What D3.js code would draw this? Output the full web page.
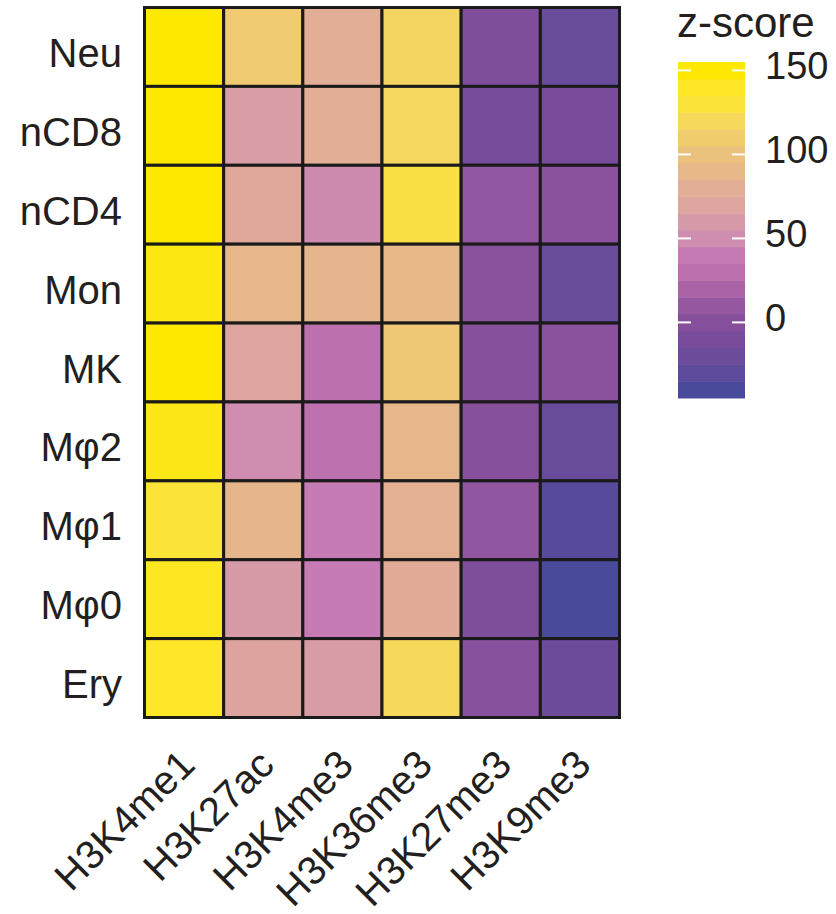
<!DOCTYPE html>
<html>
<head>
<meta charset="utf-8">
<script src="https://cdn.jsdelivr.net/npm/d3@7"></script>
<style>
  html, body { margin: 0; padding: 0; background: #fff; }
  svg { display: block; }
  text { font-family: "Liberation Sans", Arial, Helvetica, sans-serif; fill: #231f20; }
</style>
</head>
<body>
<svg id="chart" width="836" height="914"></svg>
<script>
// Histone marks (columns) and cell types (rows)
const marks = ["H3K4me1", "H3K27ac", "H3K4me3", "H3K36me3", "H3K27me3", "H3K9me3"];
const cellTypes = ["Neu", "nCD8", "nCD4", "Mon", "MK", "Mφ2", "Mφ1", "Mφ0", "Ery"];

// z-scores, one row per cell type, in mark order
const zNeu  = [150, 108, 80, 117, -5, -22];
const zCD8  = [150, 63, 80, 118, -11, -10];
const zCD4  = [150, 73, 49, 127, 9, 3];
const zMon  = [145, 89, 87, 90, 3, -22];
const zMK   = [151, 70, 30, 106, 1, 3];
const zMp2  = [144, 50, 31, 89, 1, -22];
const zMp1  = [131, 88, 40, 83, 8, -33];
const zMp0  = [141, 61, 40, 77, -5, -45];
const zEry  = [139, 68, 62, 120, 2, -20];
const zRows = [zNeu, zCD8, zCD4, zMon, zMK, zMp2, zMp1, zMp0, zEry];

// Colour bar: domain, step size and tick labels
const legendDomain = [-45, 155];
const legendStep = 10;
const legendTicks = [0, 50, 100, 150];

// Palette stops, from low to high z-score
const paletteStops = [
  "#4a4a9b", "#5d4a9b", "#6b4b9a", "#784c9a", "#854f9c",
  "#9557a0", "#aa63a6", "#bc70ad", "#c77bb5", "#cf8daf",
  "#d69aa8", "#dda59d", "#e2ae95", "#e6b88a", "#ebc17e",
  "#f0cc6e", "#f6d95b", "#fbe33a", "#fde726", "#fee800"
];

const svg = d3.select("#chart");

const grid = { left: 144.5, right: 619.5, top: 7.5, bottom: 717.5 };

const x = d3.scaleBand().domain(marks).range([grid.left, grid.right]);
const y = d3.scaleBand().domain(cellTypes).range([grid.top, grid.bottom]);

// Continuous colour through the centres of each colour-bar step
const stopValues = paletteStops.map((_, i) => legendDomain[0] + legendStep * (i + 0.5));
const color = d3.scaleLinear()
  .domain(stopValues)
  .range(paletteStops)
  .interpolate(d3.interpolateRgb)
  .clamp(true);

const cells = [];
zRows.forEach((row, ri) => row.forEach((v, ci) => cells.push({ r: cellTypes[ri], c: marks[ci], v })));

// Heatmap tiles
svg.append("g").selectAll("rect")
  .data(cells)
  .join("rect")
  .attr("x", d => x(d.c))
  .attr("y", d => y(d.r))
  .attr("width", x.bandwidth())
  .attr("height", y.bandwidth())
  .attr("fill", d => color(d.v))
  .attr("stroke", "#1a1a1a")
  .attr("stroke-width", 3);

// Outer frame
svg.append("rect")
  .attr("x", grid.left).attr("y", grid.top)
  .attr("width", grid.right - grid.left).attr("height", grid.bottom - grid.top)
  .attr("fill", "none").attr("stroke", "#1a1a1a").attr("stroke-width", 3);

// Row labels
svg.append("g").selectAll("text")
  .data(cellTypes)
  .join("text")
  .attr("x", 122)
  .attr("y", d => y(d) + y.bandwidth() / 2 + 6)
  .attr("text-anchor", "end")
  .attr("dominant-baseline", "central")
  .attr("font-size", 40)
  .text(d => d);

// Column labels, rotated
svg.append("g").selectAll("text")
  .data(marks)
  .join("text")
  .attr("transform", d => `translate(${x(d) + x.bandwidth() / 2 + 13},767) rotate(-45)`)
  .attr("text-anchor", "end")
  .attr("font-size", 40)
  .text(d => d);

// Colour bar legend
const legend = { x: 678, width: 67 };
const ly = d3.scaleLinear().domain(legendDomain).range([398, 62]);
const steps = d3.range(legendDomain[0], legendDomain[1], legendStep);

const lg = svg.append("g");
lg.selectAll("rect")
  .data(steps)
  .join("rect")
  .attr("x", legend.x)
  .attr("y", d => ly(d + legendStep))
  .attr("width", legend.width)
  .attr("height", d => ly(d) - ly(d + legendStep) + 0.5)
  .attr("fill", d => color(d + legendStep / 2));

// White tick marks on both edges of the bar
lg.selectAll("line.tl")
  .data(legendTicks)
  .join("line")
  .attr("class", "tl")
  .attr("x1", legend.x).attr("x2", legend.x + 13)
  .attr("y1", d => ly(d)).attr("y2", d => ly(d))
  .attr("stroke", "#fff").attr("stroke-width", 2);
lg.selectAll("line.tr")
  .data(legendTicks)
  .join("line")
  .attr("class", "tr")
  .attr("x1", legend.x + legend.width - 13).attr("x2", legend.x + legend.width)
  .attr("y1", d => ly(d)).attr("y2", d => ly(d))
  .attr("stroke", "#fff").attr("stroke-width", 2);

lg.selectAll("text.tick")
  .data(legendTicks)
  .join("text")
  .attr("class", "tick")
  .attr("x", 765)
  .attr("y", d => ly(d) - 4)
  .attr("dominant-baseline", "central")
  .attr("font-size", 38)
  .text(d => d);

svg.append("text")
  .attr("x", 677)
  .attr("y", 37)
  .attr("font-size", 42)
  .text("z-score");
</script>
</body>
</html>
